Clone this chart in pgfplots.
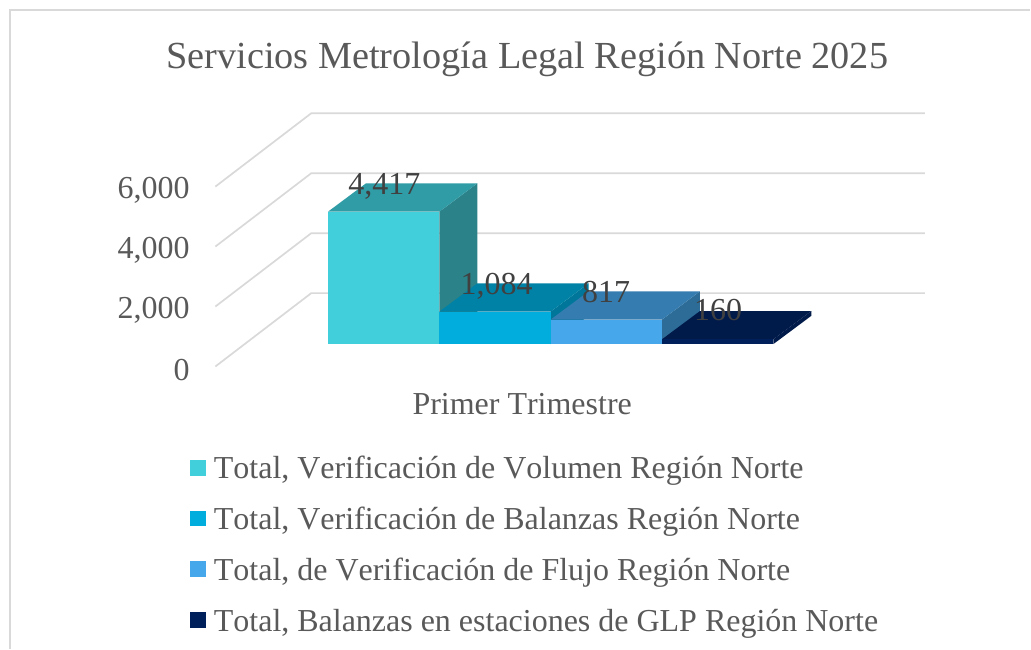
\documentclass[border=0pt]{standalone}
\usepackage{fontspec}
\setmainfont[Kerning=Off]{Liberation Serif}
\usepackage{pgfplots}
\pgfplotsset{compat=1.18}
\definecolor{txt}{HTML}{595959}
\definecolor{lab}{HTML}{404040}
\definecolor{gridc}{HTML}{D9D9D9}
\definecolor{af}{HTML}{41CFDB}\definecolor{at}{HTML}{2F9CA6}\definecolor{as}{HTML}{2B8288}
\definecolor{bf}{HTML}{00ADDC}\definecolor{bt}{HTML}{0082A6}\definecolor{bs}{HTML}{00779A}
\definecolor{cf}{HTML}{46A7EA}\definecolor{ct}{HTML}{357DB0}\definecolor{cs}{HTML}{2D6C97}
\definecolor{df}{HTML}{00205B}\definecolor{dt}{HTML}{001A4A}\definecolor{ds}{HTML}{001A4A}
% one 3-D bar: left edge (px), value, colours of front, top, side
\newcommand{\barfaces}[5]{%
  \pgfmathsetmacro\xa{#1}\pgfmathsetmacro\xb{#1+111.4}%
  \pgfmathsetmacro\xc{#1+111.4+38}\pgfmathsetmacro\xd{#1+38}%
  \pgfmathsetmacro\ya{747}\pgfmathsetmacro\yb{747+#2}%
  \pgfmathsetmacro\yc{747+#2+943}\pgfmathsetmacro\ye{747+943}%
  \addplot[fill=#5,draw=none,forget plot] coordinates {(\xb,\ya) (\xc,\ye) (\xc,\yc) (\xb,\yb)} --cycle;
  \addplot[fill=#4,draw=none,forget plot] coordinates {(\xa,\yb) (\xb,\yb) (\xc,\yc) (\xd,\yc)} --cycle;
  \addplot[fill=#3,draw=none] coordinates {(\xa,\ya) (\xb,\ya) (\xb,\yb) (\xa,\yb)} --cycle;
}
\newcommand{\wall}[2]{\addplot[gridc,line width=1.7pt,forget plot] coordinates {(215.5,#1) (311.5,#2) (925.5,#2)};}
\begin{document}
\begin{tikzpicture}
\begin{axis}[
  scale only axis, width=710pt, height=253.41pt,
  xmin=215, xmax=925, ymin=0, ymax=8447,
  clip=false, axis line style={draw=none}, major tick length=0pt,
  tick style={draw=none},
  ytick={0,2000,4000,6000},
  xtick={522.5}, xticklabels={Primer Trimestre},
  /pgf/number format/assume math mode=true,
  /pgf/number format/1000 sep={,},
  yticklabel style={font=\fontsize{32}{36}\selectfont,text=txt,inner sep=0pt,anchor=east,xshift=-25pt,yshift=-3.5pt},
  xticklabel style={font=\fontsize{32}{36}\selectfont,text=txt,inner sep=0pt,anchor=center,yshift=-38pt},
  title={Servicios Metrología Legal Región Norte 2025},
  title style={font=\fontsize{38.3}{42}\selectfont,text=txt,at={(0.4402,1.19)},anchor=center,inner sep=0pt},
  legend style={at={(-0.0352,-0.3595)},anchor=north west,draw=none,fill=none,inner sep=0pt,outer sep=0pt,
    font=\fontsize{32}{36}\selectfont,text=txt,row sep=22pt,column sep=8pt,
    nodes={inner sep=0pt,text height=21pt,text depth=8pt}},
  legend cell align=left,
  legend image code/.code={\fill[#1] (0pt,-3.5pt) rectangle (16pt,12.5pt);},
]
\wall{0}{2447}
\wall{2000}{4447}
\wall{4000}{6447}
\wall{6000}{8447}
\barfaces{328.2}{4417}{af}{at}{as}
\addlegendentry{Total, Verificación de Volumen Región Norte}
\barfaces{439.6}{1084}{bf}{bt}{bs}
\addlegendentry{Total, Verificación de Balanzas Región Norte}
\barfaces{551.0}{817}{cf}{ct}{cs}
\addlegendentry{Total, de Verificación de Flujo Región Norte}
\barfaces{662.4}{160}{df}{dt}{ds}
\addlegendentry{Total, Balanzas en estaciones de GLP Región Norte}
\node[font=\fontsize{32}{36}\selectfont,text=lab,inner sep=0pt] at (axis cs:384.5,5990) {4,417};
\node[font=\fontsize{32}{36}\selectfont,text=lab,inner sep=0pt] at (axis cs:497,2690) {1,084};
\node[font=\fontsize{32}{36}\selectfont,text=lab,inner sep=0pt] at (axis cs:606.5,2490) {817};
\node[font=\fontsize{32}{36}\selectfont,text=lab,inner sep=0pt] at (axis cs:718.5,1877) {160};
\end{axis}
\draw[gridc,line width=2pt] (-205pt,-282.3pt) -- (-205pt,356.7pt);
\draw[gridc,line width=1.2pt] (-206pt,356.7pt) -- (816pt,356.7pt);
\useasboundingbox (-215pt,-282.3pt) rectangle (816pt,366.7pt);
\end{tikzpicture}
\end{document}
